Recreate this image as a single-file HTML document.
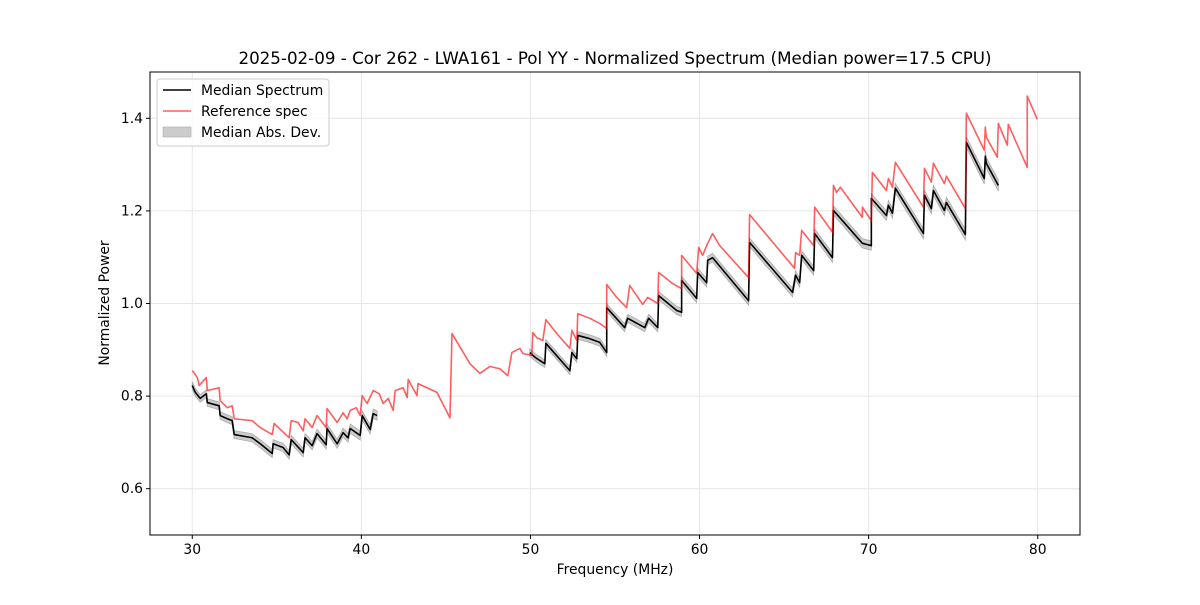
<!DOCTYPE html>
<html><head><meta charset="utf-8"><style>
body{margin:0;background:#fff;}
svg text{font-family:"DejaVu Sans","Liberation Sans",sans-serif;}
</style></head><body>
<svg id="chart" width="1200" height="600" xmlns="http://www.w3.org/2000/svg">
<rect width="1200" height="600" fill="#fff"/>
<text x="615" y="64" text-anchor="middle" font-size="16.7">2025-02-09 - Cor 262 - LWA161 - Pol YY - Normalized Spectrum (Median power=17.5 CPU)</text>
<g id="grid"></g><g id="marks"></g>
<rect x="150" y="72" width="930" height="463" fill="none" stroke="#000" stroke-width="1"/>
<g id="ticks"></g>
<text x="615" y="574" text-anchor="middle" font-size="13.9">Frequency (MHz)</text>
<text x="109" y="303" text-anchor="middle" font-size="13.9" transform="rotate(-90 109 303)">Normalized Power</text>
<g>
<rect x="157" y="79" width="172" height="67" rx="3" fill="#fff" fill-opacity="0.8" stroke="#ccc"/>
<g><line x1="163" y1="90" x2="191" y2="90" stroke="#000" stroke-width="1.5"/><text x="201" y="95" font-size="13.9">Median Spectrum</text></g>
<g><line x1="163" y1="111" x2="191" y2="111" stroke="#ff5f5f" stroke-width="1.5"/><text x="201" y="116" font-size="13.9">Reference spec</text></g>
<g><rect x="163" y="127" width="28" height="10" fill="#ccc" stroke="#aaa" stroke-width="0.6"/><text x="201" y="137" font-size="13.9">Median Abs. Dev.</text></g>
</g>
</svg>
<script>
const xTicks=[30,40,50,60,70,80];
const yTicks=[0.6,0.8,1.0,1.2,1.4];
const refFreq=[30.00,30.30,30.41,30.83,30.89,31.59,31.65,32.07,32.36,32.48,33.54,34.02,34.73,34.84,35.73,35.85,36.26,36.56,36.67,37.09,37.38,37.92,37.97,38.57,38.92,39.16,39.34,39.69,39.93,40.05,40.34,40.70,41.06,41.29,41.59,41.88,42.00,42.47,42.71,42.77,43.29,43.35,44.47,45.24,45.36,46.42,47.01,47.60,48.19,48.66,48.90,49.37,49.55,50.08,50.14,50.38,50.73,50.91,51.56,52.33,52.45,52.74,52.80,53.51,54.10,54.51,54.51,55.10,55.69,55.87,56.64,56.93,57.53,57.58,58.41,58.94,58.94,59.83,59.95,60.18,60.48,60.77,61.19,62.90,62.96,65.62,65.68,65.92,66.04,66.75,66.81,67.86,67.92,68.10,68.33,69.63,69.63,70.16,70.22,71.05,71.17,71.41,71.58,73.24,73.30,73.71,73.83,74.48,74.60,75.72,75.78,76.84,76.90,76.96,77.61,77.67,78.20,78.26,79.38,79.38,79.97];
const refPower=[0.855,0.840,0.823,0.840,0.812,0.818,0.790,0.775,0.779,0.751,0.747,0.732,0.717,0.741,0.710,0.747,0.743,0.725,0.751,0.732,0.758,0.732,0.773,0.743,0.764,0.751,0.769,0.775,0.758,0.801,0.784,0.812,0.805,0.784,0.795,0.769,0.812,0.818,0.797,0.836,0.801,0.827,0.808,0.753,0.935,0.870,0.849,0.864,0.859,0.844,0.894,0.903,0.892,0.888,0.937,0.926,0.920,0.965,0.935,0.903,0.942,0.920,0.978,0.968,0.957,0.946,1.041,1.013,0.991,1.039,0.998,1.013,1.000,1.067,1.043,1.032,1.104,1.065,1.121,1.104,1.130,1.151,1.125,1.056,1.192,1.076,1.110,1.104,1.158,1.125,1.208,1.154,1.255,1.240,1.251,1.186,1.208,1.179,1.283,1.244,1.270,1.251,1.305,1.208,1.292,1.262,1.303,1.259,1.275,1.205,1.411,1.331,1.381,1.359,1.316,1.389,1.342,1.387,1.294,1.448,1.398];
const medFreq1=[30.00,30.18,30.47,30.83,30.89,31.59,31.65,32.07,32.36,32.48,33.54,34.02,34.73,34.78,35.37,35.73,35.85,36.56,36.67,37.09,37.38,37.92,37.97,38.57,38.92,39.21,39.34,39.93,40.05,40.52,40.70,40.93];
const medPower1=[0.823,0.808,0.795,0.805,0.786,0.779,0.758,0.751,0.747,0.717,0.710,0.697,0.676,0.697,0.689,0.673,0.706,0.678,0.710,0.693,0.719,0.695,0.730,0.697,0.721,0.710,0.730,0.715,0.758,0.728,0.762,0.758];
const medFreq2=[49.96,50.14,50.38,50.85,50.91,52.33,52.45,52.74,52.80,53.51,54.10,54.51,54.51,55.57,55.75,56.76,56.99,57.53,57.58,58.65,58.94,58.94,59.83,59.89,60.42,60.48,60.77,62.90,62.96,65.50,65.68,65.92,66.04,66.75,66.81,67.86,67.92,69.63,70.16,70.16,71.05,71.17,71.41,71.58,73.24,73.30,73.71,73.83,74.48,74.60,75.72,75.78,76.84,76.90,76.96,77.67];
const medPower2=[0.894,0.888,0.881,0.870,0.914,0.855,0.894,0.881,0.931,0.924,0.916,0.894,0.991,0.948,0.968,0.948,0.968,0.948,1.017,0.985,0.981,1.050,1.011,1.067,1.045,1.093,1.099,1.006,1.132,1.024,1.061,1.045,1.104,1.071,1.151,1.099,1.201,1.130,1.125,1.227,1.190,1.212,1.195,1.249,1.151,1.234,1.205,1.244,1.201,1.218,1.149,1.348,1.270,1.318,1.303,1.255];
const madFreq=[30,41,50,60,70,77.7];
const madDev=[0.008,0.01,0.008,0.009,0.01,0.012];

const X0=150,X1=1080,Y0=535,Y1=72,xmin=27.5,xmax=82.5,ymin=0.5,ymax=1.5;
const sx=f=>X0+(f-xmin)/(xmax-xmin)*(X1-X0);
const sy=v=>Y0-(v-ymin)/(ymax-ymin)*(Y0-Y1);
const NS="http://www.w3.org/2000/svg";
function mk(tag,attrs,parent){const e=document.createElementNS(NS,tag);for(const k in attrs)e.setAttribute(k,attrs[k]);parent.appendChild(e);return e;}
const grid=document.getElementById('grid'),ticks=document.getElementById('ticks'),marks=document.getElementById('marks');
xTicks.forEach(t=>{const x=sx(t);
 const g=mk('line',{x1:x,x2:x,y1:Y1,y2:Y0,stroke:'#e6e6e6','stroke-width':1},grid);
 
 
 mk('line',{x1:x,x2:x,y1:Y0,y2:Y0+4,stroke:'#000'},ticks);
 const tx=mk('text',{x:x,y:Y0+19,'text-anchor':'middle','font-size':13.9},ticks);tx.textContent=t;
 
 });
yTicks.forEach(t=>{const y=sy(t);
 const g=mk('line',{x1:X0,x2:X1,y1:y,y2:y,stroke:'#e6e6e6','stroke-width':1},grid);
 
 
 mk('line',{x1:X0-4,x2:X0,y1:y,y2:y,stroke:'#000'},ticks);
 const tx=mk('text',{x:X0-7,y:y+4.5,'text-anchor':'end','font-size':13.9},ticks);tx.textContent=t.toFixed(1);
 
 });
function madAt(f){for(let i=0;i<madFreq.length-1;i++){if(f<=madFreq[i+1]){const r=(f-madFreq[i])/(madFreq[i+1]-madFreq[i]);return madDev[i]+r*(madDev[i+1]-madDev[i]);}}return madDev[madDev.length-1];}
function band(fs,ps,name){let up=fs.map((f,i)=>sx(f)+','+sy(ps[i]+madAt(f)));let dn=fs.map((f,i)=>sx(f)+','+sy(ps[i]-madAt(f))).reverse();
 const p=mk('polygon',{points:up.concat(dn).join(' '),fill:'#bbb','fill-opacity':0.75,stroke:'#aaa','stroke-width':0.8},marks);
 
 }
function line(fs,ps,color,op,name){const p=mk('polyline',{points:fs.map((f,i)=>sx(f)+','+sy(ps[i])).join(' '),fill:'none',stroke:color,'stroke-opacity':op,'stroke-width':1.6,'stroke-linejoin':'round'},marks);
 
 }
band(medFreq1,medPower1,'mad-band-low');
band(medFreq2,medPower2,'mad-band-high');
line(medFreq1,medPower1,'#000',1,'median-spectrum-low');
line(medFreq2,medPower2,'#000',1,'median-spectrum-high');
line(refFreq,refPower,'#ff0000',0.63,'reference-spectrum');
</script>
</body></html>
